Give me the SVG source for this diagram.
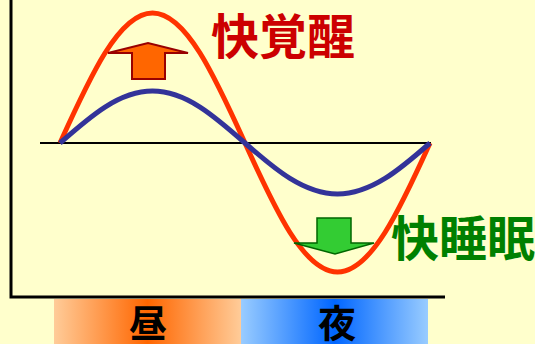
<svg xmlns="http://www.w3.org/2000/svg" width="535" height="344" viewBox="0 0 535 344">
<style>
.cjk{font-family:"Noto Sans CJK JP","Noto Sans CJK SC",sans-serif;font-weight:bold}
.wave{fill:none;stroke-width:5;stroke-linecap:butt}
</style>
<defs>
<linearGradient id="day" x1="0" y1="0" x2="1" y2="0">
<stop offset="0" stop-color="#FFCC99"/><stop offset="0.5" stop-color="#FF6600"/><stop offset="1" stop-color="#FFCC99"/>
</linearGradient>
<linearGradient id="night" x1="0" y1="0" x2="1" y2="0">
<stop offset="0" stop-color="#99CCFF"/><stop offset="0.5" stop-color="#0066FF"/><stop offset="1" stop-color="#99CCFF"/>
</linearGradient>
</defs>
<rect width="535" height="344" fill="#FFFFCC"/>
<g id="bars">
<rect x="54" y="299" width="187" height="45" fill="url(#day)"/>
<rect x="241" y="299" width="187" height="45" fill="url(#night)"/>
<text class="cjk" x="148" y="337" font-size="38" text-anchor="middle" fill="#000">昼</text>
<text class="cjk" x="337" y="337" font-size="38" text-anchor="middle" fill="#000">夜</text>
</g>
<g id="axes" fill="none" stroke="#000">
<path d="M11,0 L11,297 L445,297" stroke-width="3"/>
<line x1="40" y1="143" x2="431" y2="143" stroke-width="2"/>
</g>
<g id="connectors">
<path class="wave" stroke="#FF3300" d="M60,143 C90.17,76.4 119.02,13 152.5,13 C185.98,13 214.83,76.4 245,143 C275.17,209.6 304.02,272 337.5,272 C370.98,272 399.83,209.6 430,143"/>
<path class="wave" stroke="#333399" stroke-width="5.5" d="M60,143 C90.17,116.4 119.02,91 152.5,91 C185.98,91 214.83,116.4 245,143 C275.17,169.6 304.02,194 337.5,194 C370.98,194 399.83,169.6 430,143"/>
</g>
<g id="up-arrow">
<polygon points="132,79 165,79 165,53 188,53 148,43 108,53 132,53" fill="#FF6600" stroke="#990000" stroke-width="2" stroke-linejoin="miter"/>
</g>
<g id="down-arrow">
<polygon points="317,218 351,218 351,243 374,243 335,254 294,243 317,243" fill="#33CC33" stroke="#006600" stroke-width="1.5"/>
</g>
<g id="label-wake">
<text class="cjk" x="211" y="54" font-size="48" fill="#CC0000">快覚醒</text>
</g>
<g id="label-sleep">
<text class="cjk" x="391" y="256" font-size="48" fill="#008000">快睡眠</text>
</g>
</svg>
